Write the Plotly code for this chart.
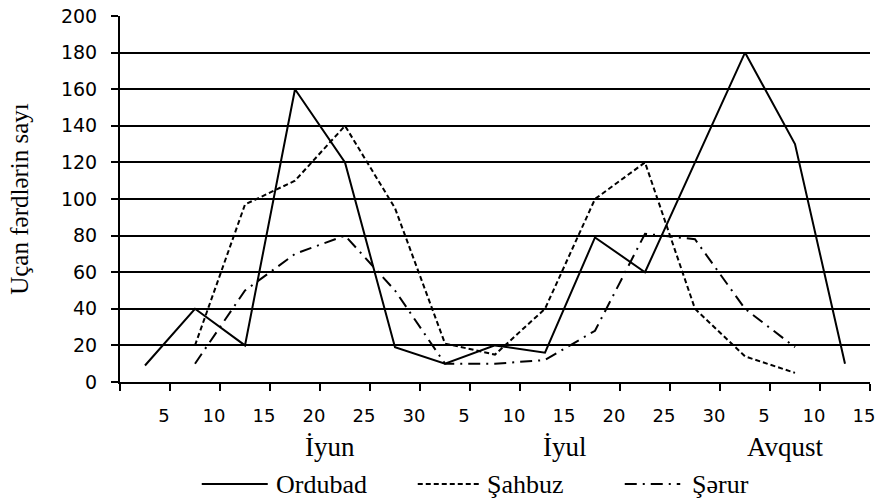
import plotly.graph_objects as go

# x positions (in 5-day steps from 31 May)
ordubad_x = [0.5, 1.5, 2.5, 3.5, 4.5, 5.5, 6.5, 7.5, 8.5, 9.5, 10.5, 11.5, 12.5, 13.5, 14.5]
ordubad_y = [9, 40, 20, 160, 120, 19, 10, 20, 16, 79, 60, 120, 180, 130, 10]

sahbuz_x = [1.5, 2.5, 3.5, 4.5, 5.5, 6.5, 7.5, 8.5, 9.5, 10.5, 11.5, 12.5, 13.5]
sahbuz_y = [20, 97, 110, 140, 95, 21, 15, 40, 100, 120, 40, 14, 5]

serur_x = [1.5, 2.5, 3.5, 4.5, 5.5, 6.5, 7.5, 8.5, 9.5, 10.5, 11.5, 12.5, 13.5]
serur_y = [10, 50, 70, 80, 50, 10, 10, 12, 28, 81, 78, 40, 19]

tick_vals = list(range(0, 16))
tick_text = ["", "5", "10", "15", "20", "25", "30", "5", "10", "15", "20", "25", "30", "5", "10", "15"]

months = ["İyun", "İyul", "Avqust"]
month_pos = [4.2, 8.9, 13.3]

y_title = "Uçan fərdlərin sayı"

serif = "Liberation Serif"
sans = "DejaVu Sans"

series = [
    ("Ordubad", ordubad_x, ordubad_y, "solid"),
    ("Şahbuz", sahbuz_x, sahbuz_y, "5px,3px"),
    ("Şərur", serur_x, serur_y, "12px,6px,2px,6px"),
]

# legend layout (paper coords): line start, line end, text start
legend_pos = [(0.109, 0.197, 0.205), (0.397, 0.482, 0.486), (0.673, 0.747, 0.760)]
legend_y = -0.279

fig = go.Figure()
for (name, xs, ys, dash), (x0, x1, xt) in zip(series, legend_pos):
    fig.add_trace(go.Scatter(x=xs, y=ys, mode="lines", name=name, showlegend=False,
                             line=dict(color="black", width=2, dash=dash)))
    fig.add_shape(type="line", xref="paper", yref="paper", x0=x0, x1=x1,
                  y0=legend_y, y1=legend_y, line=dict(color="black", width=2, dash=dash))
    fig.add_annotation(x=xt, y=legend_y, xref="paper", yref="paper", text=name,
                       showarrow=False, xanchor="left", yanchor="middle",
                       font=dict(family=serif, size=26, color="black"))

for m, p in zip(months, month_pos):
    fig.add_annotation(x=p, y=0, xref="x", yref="paper", text=m, showarrow=False,
                       yshift=-65, yanchor="middle", xanchor="center",
                       font=dict(family=serif, size=27, color="black"))

fig.update_layout(
    width=879, height=499,
    margin=dict(l=120, r=9, t=16, b=117, autoexpand=False),
    paper_bgcolor="white", plot_bgcolor="white",
    showlegend=False,
    xaxis=dict(range=[-0.0001, 15.0001], tickvals=tick_vals, ticktext=tick_text,
               automargin=False,
               showgrid=False, zeroline=False, showline=True, linecolor="black", linewidth=2,
               ticks="outside", ticklen=7, tickwidth=2, tickcolor="black",
               ticklabelstandoff=9, ticklabelshift=-6, ticklabeloverflow="allow",
               tickfont=dict(family=sans, size=18, color="black")),
    yaxis=dict(range=[0, 200], dtick=20, tick0=0, automargin=False,
               showgrid=True, gridcolor="black", gridwidth=2,
               zeroline=False, showline=True, linecolor="black", linewidth=2,
               ticks="outside", ticklen=7, tickwidth=2, tickcolor="black",
               ticklabelstandoff=10,
               tickfont=dict(family=sans, size=19, color="black"),
               title=dict(text=y_title, font=dict(family=serif, size=25, color="black"), standoff=25)),
)

fig.write_html("out.html")
